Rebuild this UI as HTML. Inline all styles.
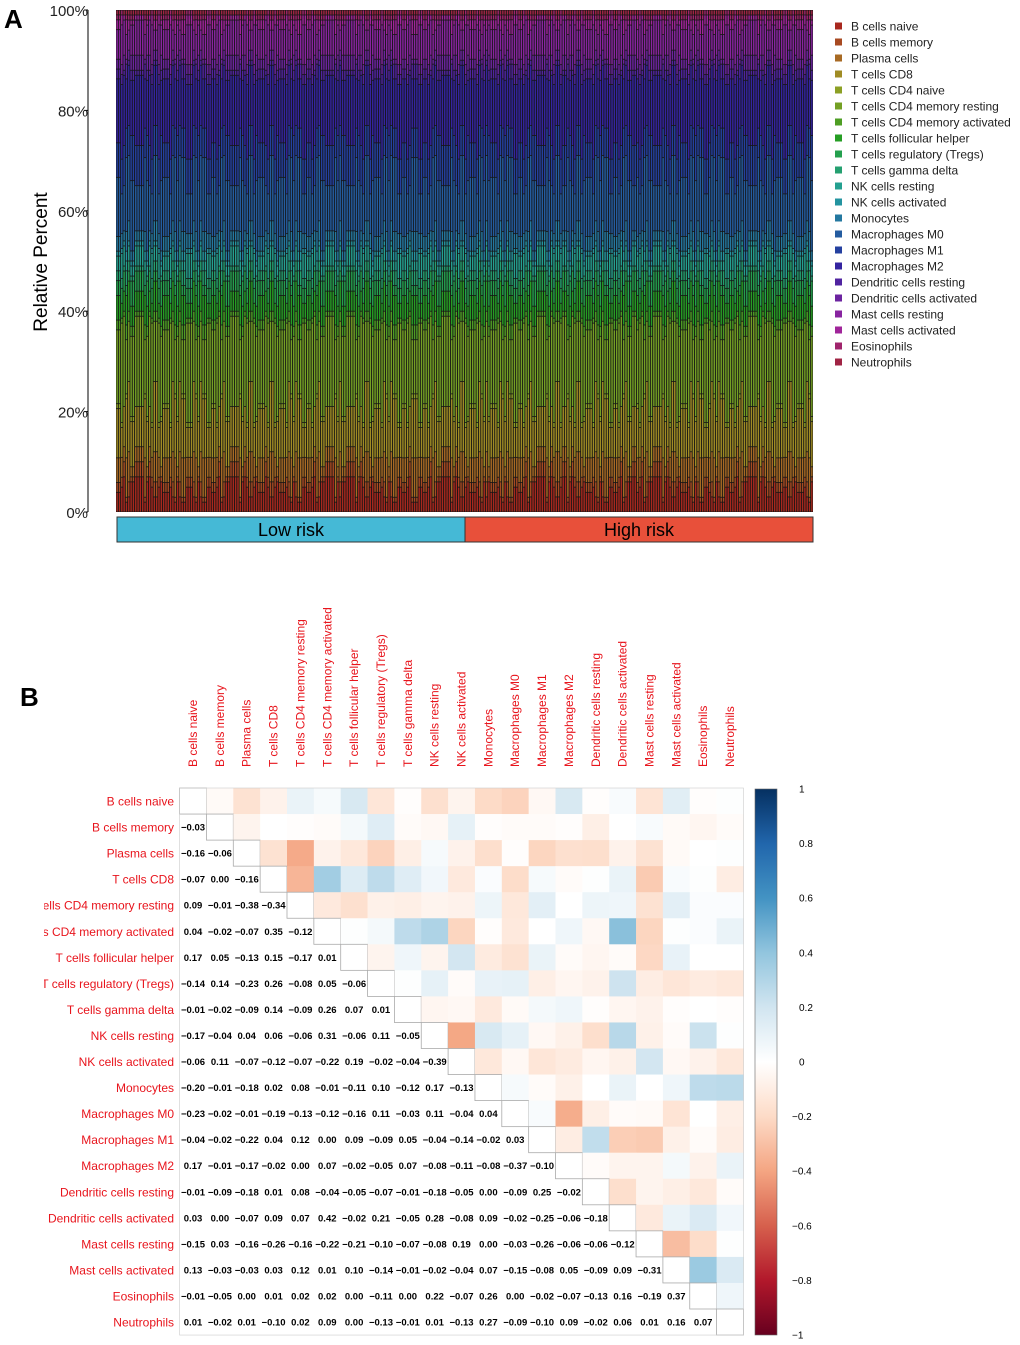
<!DOCTYPE html>
<html><head><meta charset="utf-8"><style>
body{margin:0;background:#fff;font-family:"Liberation Sans",Arial,sans-serif;}
svg{display:block}
</style></head><body>
<svg id="fig" width="1020" height="1345" xmlns="http://www.w3.org/2000/svg">
<text x="4" y="28" font-size="26" font-weight="bold">A</text>
<text x="20" y="706" font-size="26" font-weight="bold">B</text>
<g id="pa"></g>
<g id="pb"></g>
</svg>
<script>
const cellTypes=["B cells naive","B cells memory","Plasma cells","T cells CD8","T cells CD4 naive","T cells CD4 memory resting","T cells CD4 memory activated","T cells follicular helper","T cells regulatory (Tregs)","T cells gamma delta","NK cells resting","NK cells activated","Monocytes","Macrophages M0","Macrophages M1","Macrophages M2","Dendritic cells resting","Dendritic cells activated","Mast cells resting","Mast cells activated","Eosinophils","Neutrophils"];
const cellColors=["#A8281E","#A84A22","#A86A24","#A08C24","#8CA024","#74A024","#4E9E24","#269E24","#24A04E","#24A070","#24A090","#2494A0","#2478A0","#245CA0","#2440A0","#3424A0","#5024A0","#6C24A0","#8824A0","#A0249A","#A0246C","#A02444"];
// composition profiles (percent per cell type) for representative samples
const profileA=[4,2,5,10,1,15,2,5,3,2,3,1,3,12,7,13,2,2,6,2,1,1];
const profileB=[7,3,3,8,0,18,1,4,4,1,4,1,2,9,8,14,1,3,7,1,0,1];
const profileC=[2,1,8,12,1,11,3,6,2,3,2,2,4,15,6,10,3,1,5,3,1,1];
const profileD=[5,2,4,6,1,20,1,3,3,2,5,1,3,8,7,15,2,2,8,2,1,0];
const profileE=[3,3,6,14,0,12,2,6,2,2,3,1,4,13,6,12,1,2,4,2,1,1];
const profileF=[6,1,2,9,1,16,2,4,5,1,2,1,2,14,9,11,2,3,6,1,1,1];
const profiles=[profileA,profileB,profileC,profileD,profileE,profileF];
const sampleOrder=[0,3,1,4,2,5,1,0,4,3,5,2,0,1,3,2,4,5,3,0,2,1,5,4,1,3,0,5,2,4,3,1];
const yTicks=[0,20,40,60,80,100];
const groups=["Low risk","High risk"];
const groupColors=["#45B9D6","#E8503A"];
const nSamples=300;

const corrLabels=["B cells naive","B cells memory","Plasma cells","T cells CD8","T cells CD4 memory resting","T cells CD4 memory activated","T cells follicular helper","T cells regulatory (Tregs)","T cells gamma delta","NK cells resting","NK cells activated","Monocytes","Macrophages M0","Macrophages M1","Macrophages M2","Dendritic cells resting","Dendritic cells activated","Mast cells resting","Mast cells activated","Eosinophils","Neutrophils"];
const lowerTri=[[],
[-0.03],
[-0.16,-0.06],
[-0.07,0.00,-0.16],
[0.09,-0.01,-0.38,-0.34],
[0.04,-0.02,-0.07,0.35,-0.12],
[0.17,0.05,-0.13,0.15,-0.17,0.01],
[-0.14,0.14,-0.23,0.26,-0.08,0.05,-0.06],
[-0.01,-0.02,-0.09,0.14,-0.09,0.26,0.07,0.01],
[-0.17,-0.04,0.04,0.06,-0.06,0.31,-0.06,0.11,-0.05],
[-0.06,0.11,-0.07,-0.12,-0.07,-0.22,0.19,-0.02,-0.04,-0.39],
[-0.20,-0.01,-0.18,0.02,0.08,-0.01,-0.11,0.10,-0.12,0.17,-0.13],
[-0.23,-0.02,-0.01,-0.19,-0.13,-0.12,-0.16,0.11,-0.03,0.11,-0.04,0.04],
[-0.04,-0.02,-0.22,0.04,0.12,0.00,0.09,-0.09,0.05,-0.04,-0.14,-0.02,0.03],
[0.17,-0.01,-0.17,-0.02,0.00,0.07,-0.02,-0.05,0.07,-0.08,-0.11,-0.08,-0.37,-0.10],
[-0.01,-0.09,-0.18,0.01,0.08,-0.04,-0.05,-0.07,-0.01,-0.18,-0.05,0.00,-0.09,0.25,-0.02],
[0.03,0.00,-0.07,0.09,0.07,0.42,-0.02,0.21,-0.05,0.28,-0.08,0.09,-0.02,-0.25,-0.06,-0.18],
[-0.15,0.03,-0.16,-0.26,-0.16,-0.22,-0.21,-0.10,-0.07,-0.08,0.19,0.00,-0.03,-0.26,-0.06,-0.06,-0.12],
[0.13,-0.03,-0.03,0.03,0.12,0.01,0.10,-0.14,-0.01,-0.02,-0.04,0.07,-0.15,-0.08,0.05,-0.09,0.09,-0.31],
[-0.01,-0.05,0.00,0.01,0.02,0.02,0.00,-0.11,0.00,0.22,-0.07,0.26,0.00,-0.02,-0.07,-0.13,0.16,-0.19,0.37],
[0.01,-0.02,0.01,-0.10,0.02,0.09,0.00,-0.13,-0.01,0.01,-0.13,0.27,-0.09,-0.10,0.09,-0.02,0.06,0.01,0.16,0.07]];
const cbarTicks=[1,0.8,0.6,0.4,0.2,0,-0.2,-0.4,-0.6,-0.8,-1];

const NS="http://www.w3.org/2000/svg";
function mk(tag,attrs,parent,text){const e=document.createElementNS(NS,tag);for(const k in attrs)e.setAttribute(k,attrs[k]);if(text!==undefined)e.textContent=text;parent.appendChild(e);return e;}

// Panel A
const pa=document.getElementById('pa');
const px0=116,px1=813,py0=10,py1=512;
const yA=v=>py1-(v/100)*(py1-py0);
const bw=(px1-px0)/nSamples;
mk('rect',{x:px0,y:py0,width:px1-px0,height:py1-py0,fill:"#151515"},pa);
for(let s=0;s<nSamples;s++){
  const prof=profiles[sampleOrder[(s*7+Math.floor(s/32))%sampleOrder.length]];
  const tot=prof.reduce((a,b)=>a+b,0);
  let acc=0;
  for(let k=0;k<prof.length;k++){
    const f=prof[k]/tot*100;
    if(f>0){
      const r=mk('rect',{x:px0+s*bw+0.45,y:yA(acc+f)+0.4,width:bw-0.9,height:Math.max(0,yA(acc)-yA(acc+f)-0.8),fill:cellColors[k]},pa);
      
      
    }
    acc+=f;
  }
}
mk('line',{x1:88,y1:py0,x2:88,y2:py1,stroke:"#000"},pa);
yTicks.forEach(t=>{
  mk('line',{x1:84,y1:yA(t),x2:88,y2:yA(t),stroke:"#000"},pa);
  const tx=mk('text',{x:88,y:yA(t)+6,"font-size":15,"text-anchor":"end",fill:"#222"},pa,t+"%");
  
  
});
const yt=mk('text',{x:47,y:262,"font-size":19,"text-anchor":"middle",transform:"rotate(-90 47 262)"},pa,"Relative Percent");

const gx=[[117,465],[465,813]];
groups.forEach((g,i)=>{
  const r=mk('rect',{x:gx[i][0],y:517,width:gx[i][1]-gx[i][0],height:25,fill:groupColors[i],stroke:"#333"},pa);
  
  const t=mk('text',{x:(gx[i][0]+gx[i][1])/2,y:536,"font-size":18,"text-anchor":"middle"},pa,g);
  
});
cellTypes.forEach((c,i)=>{
  const y=26+i*16;
  const sq=mk('rect',{x:835,y:y-3.5,width:7,height:7,fill:cellColors[i]},pa);
  
  const t=mk('text',{x:851,y:y+4.5,"font-size":12,fill:"#222"},pa,c);
  
});

// Panel B
const pb=document.getElementById('pb');
const stops=[[-1,[103,0,31]],[-0.8,[178,24,43]],[-0.6,[214,96,77]],[-0.4,[244,165,130]],[-0.2,[253,219,199]],[0,[255,255,255]],[0.2,[209,229,240]],[0.4,[146,197,222]],[0.6,[67,147,195]],[0.8,[33,102,172]],[1,[5,48,97]]];
function col(v){for(let i=0;i<stops.length-1;i++){const a=stops[i],b=stops[i+1];if(v<=b[0]){const t=(v-a[0])/(b[0]-a[0]);const c=a[1].map((x,j)=>Math.round(x+(b[1][j]-x)*t));return `rgb(${c})`;}}return "rgb(5,48,97)";}
const n=corrLabels.length,cw=26.85,ch=26.05,mx0=179.6,my0=788;
const cx=j=>mx0+j*cw, cy=i=>my0+i*ch;
const corr=(i,j)=>i===j?1:(i>j?lowerTri[i][j]:lowerTri[j][i]);
const defs=mk('defs',{},pb);
const cp=mk('clipPath',{id:"lc"},defs);mk('rect',{x:44,y:780,width:140,height:560},cp);
const lg=mk('g',{"clip-path":"url(#lc)"},pb);
for(let i=0;i<n;i++){
  const t=mk('text',{x:174,y:cy(i)+ch/2+4.5,"font-size":12,fill:"#e8141c","text-anchor":"end"},lg,corrLabels[i]);
  
  const xx=cx(i)+cw/2+4;
  const c=mk('text',{x:xx,y:767,"font-size":12,fill:"#e8141c",transform:`rotate(-90 ${xx} 767)`},pb,corrLabels[i]);
  
  for(let j=0;j<n;j++){
    if(j>i){
      const r=mk('rect',{x:cx(j),y:cy(i),width:cw+0.4,height:ch+0.4,fill:col(corr(i,j))},pb);
      
    }else if(j===i){
      const r=mk('rect',{x:cx(j),y:cy(i),width:cw,height:ch,fill:"#fff",stroke:"#aaa","stroke-width":0.8},pb);
      
    }else{
      const v=lowerTri[i][j];
      const t=mk('text',{x:cx(j)+cw/2,y:cy(i)+ch/2+3.5,"font-size":9.5,"font-weight":"bold","text-anchor":"middle"},pb,(v<0?"\u2212":"")+Math.abs(v).toFixed(2));
      
    }
  }
}
mk('rect',{x:mx0,y:my0,width:n*cw,height:n*ch,fill:"none",stroke:"#ccc","stroke-width":0.6},pb);
const lgd=mk('linearGradient',{id:"cb",x1:0,y1:0,x2:0,y2:1},defs);
stops.slice().reverse().forEach((s,k)=>mk('stop',{offset:(k/10),"stop-color":`rgb(${s[1]})`},lgd));
const cbt=789,cbb=1335,yC=v=>cbt+(1-v)/2*(cbb-cbt);
const cbar=mk('rect',{x:755,y:cbt,width:22,height:cbb-cbt,fill:"url(#cb)",stroke:"#666","stroke-width":0.6},pb);

cbarTicks.forEach(t=>{
  const s=t===0?"0":(t<0?"\u2212":"")+(Math.abs(t)===1?"1":Math.abs(t).toFixed(1));
  const tx=mk('text',{x:t<0?792:799,y:yC(t)+3.5,"font-size":10},pb,s);
  
});
</script>
</body></html>
